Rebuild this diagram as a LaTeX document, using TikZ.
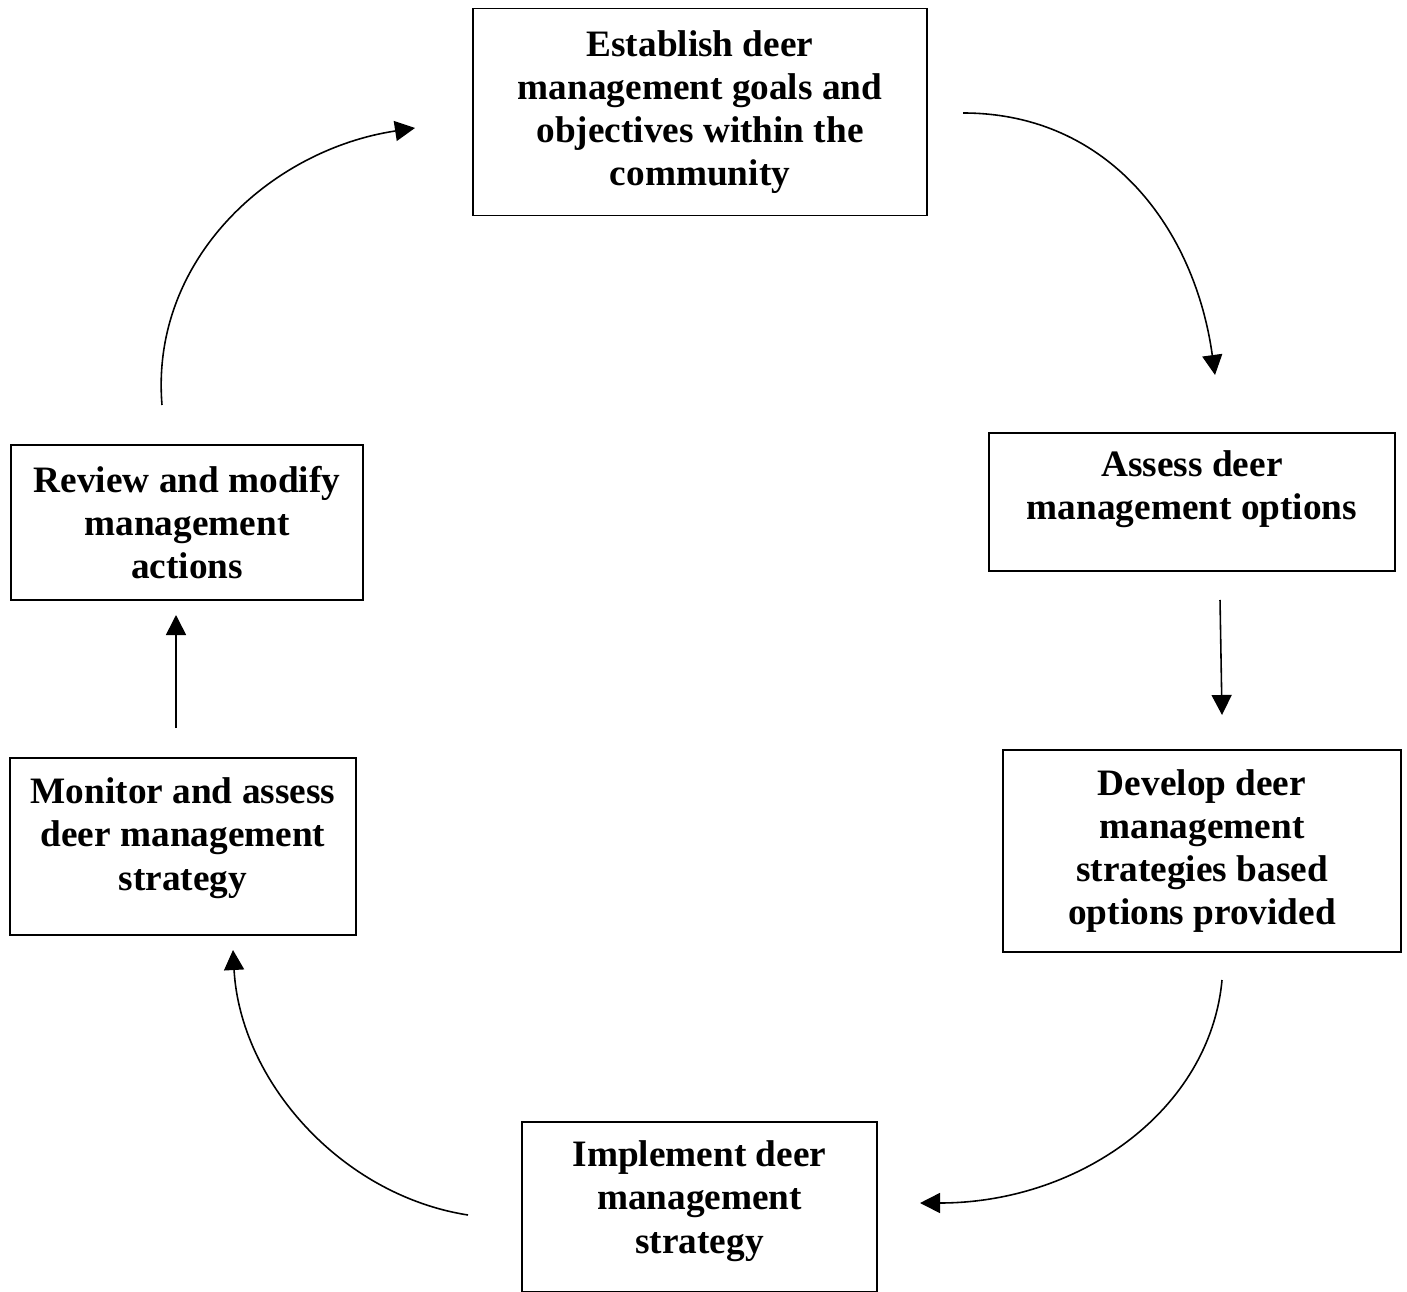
\documentclass[tikz,border=0pt]{standalone}
\usepackage{fontspec}
\setmainfont{Liberation Serif}
\usepackage{tikz}
\usetikzlibrary{arrows.meta, positioning, calc}
\tikzstyle{stage} = [
    draw, line width=0.5pt, align=center, inner sep=0pt,
    font=\fontsize{10.6}{12.3}\selectfont\bfseries,
]
\tikzstyle{arrow} = [line width=0.45pt, -{Triangle[length=2mm,width=2mm]}]

\begin{document}
\begin{tikzpicture}[x=0.01cm, y=-0.01cm]
    \useasboundingbox (0,0) rectangle (1407,1292);
    % stages of the cycle
    \node (goals) at (700,112) [stage, minimum width=4.54cm, minimum height=2.07cm]
        {Establish deer\\management goals and\\objectives within the\\community};
    \node (assess) at (1192,502) [stage, minimum width=4.06cm, minimum height=1.38cm, text depth=0.34cm]
        {Assess deer\\management options};
    \node (develop) at (1202,851) [stage, minimum width=3.98cm, minimum height=2.02cm]
        {Develop deer\\management\\strategies based\\options provided};
    \node (implement) at (699.5,1207) [stage, minimum width=3.55cm, minimum height=1.70cm, text depth=0.20cm]
        {Implement deer\\management\\strategy};
    \node (monitor) at (183,846.5) [stage, minimum width=3.46cm, minimum height=1.77cm, text depth=0.25cm]
        {Monitor and assess\\deer management\\strategy};
    \node (review) at (187,522.5) [stage, minimum width=3.52cm, minimum height=1.55cm]
        {Review and modify\\management\\actions};

    % free ends of the connectors
    \coordinate (goalsout) at (963,113);
    \coordinate (assessin) at (1215,375);
    \coordinate (assessout) at (1220,600);
    \coordinate (developin) at (1222,715);
    \coordinate (developout) at (1222,980);
    \coordinate (implementin) at (920,1203);
    \coordinate (implementout) at (468,1215);
    \coordinate (monitorin) at (233,950);
    \coordinate (monitorout) at (176,728);
    \coordinate (reviewin) at (176,615);
    \coordinate (reviewout) at (162,405);
    \coordinate (goalsin) at (415,128);

    \draw[arrow] (goalsout) .. controls (1110,113) and (1195,230) .. (assessin);
    \draw[arrow] (assessout) -- (developin);
    \draw[arrow] (developout) .. controls (1210,1110) and (1080,1203) .. (implementin);
    \draw[arrow] (implementout) .. controls (340,1195) and (240,1080) .. (monitorin);
    \draw[arrow] (monitorout) -- (reviewin);
    \draw[arrow] (reviewout) .. controls (150,260) and (270,150) .. (goalsin);
\end{tikzpicture}
\end{document}
